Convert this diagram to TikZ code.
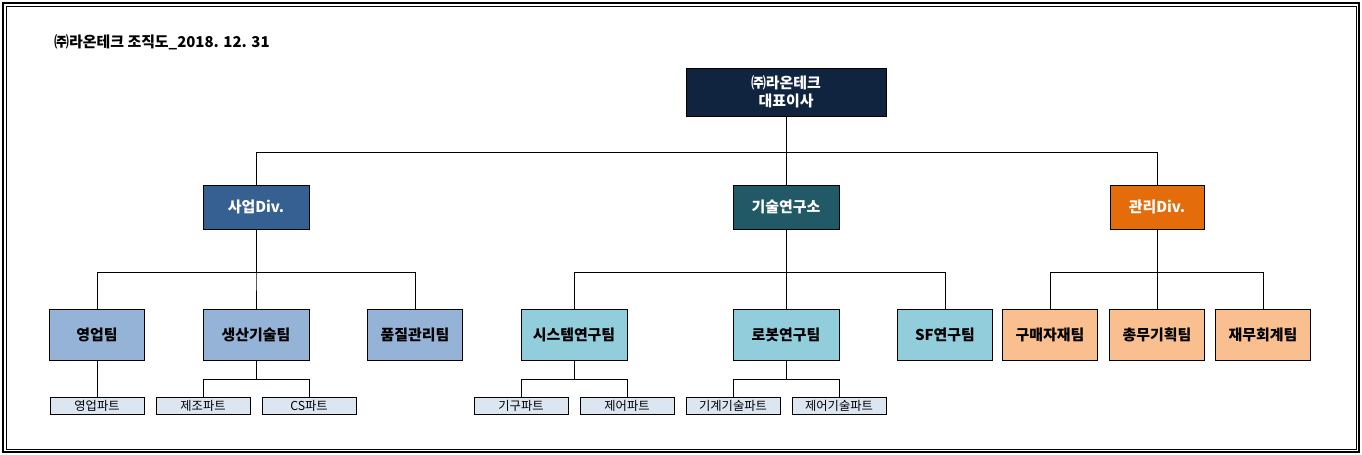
\documentclass[tikz,border=0pt]{standalone}
\usepackage{fontspec}
\setmainfont{Noto Sans CJK KR}
\definecolor{ceoC}{HTML}{10243F}
\definecolor{bizC}{HTML}{366092}
\definecolor{labC}{HTML}{215967}
\definecolor{admC}{HTML}{E46C0A}
\definecolor{bizT}{HTML}{95B3D7}
\definecolor{labT}{HTML}{92CDDC}
\definecolor{admT}{HTML}{FABF8F}
\definecolor{partC}{HTML}{DCE6F1}
\tikzset{
  box/.style={draw=black, line width=0.5pt, font=\fontsize{8.5pt}{10pt}\selectfont\bfseries, align=center, inner sep=0pt},
  topbox/.style={box, fill=ceoC, text=white, minimum width=4cm, minimum height=0.96cm},
  divbox/.style={box, text=white, minimum width=2.12cm, minimum height=0.88cm},
  teambox/.style={box, minimum width=1.9cm, minimum height=1.02cm},
  partbox/.style={draw=black, line width=0.5pt, fill=partC, font=\fontsize{7pt}{8pt}\selectfont, inner sep=0pt, minimum width=1.88cm, minimum height=0.34cm},
  link/.style={line width=0.5pt}
}
\begin{document}
\begin{tikzpicture}[x=0.02cm, y=-0.02cm]
  \useasboundingbox (0,0) rectangle (1362,455);
  \fill[white] (0,0) rectangle (1362,455);
  \draw[line width=1pt] (3,3) rectangle (1359,452);
  \draw[line width=0.5pt] (6,6) rectangle (1356,449);
  \node[anchor=west, font=\fontsize{8.5pt}{10pt}\selectfont\bfseries] (title) at (48,42) {㈜라온테크 조직도\_2018. 12. 31};
  % top
  \node[topbox] (ceo) at (786,92) {㈜라온테크\\대표이사};
  % divisions
  \node[divbox, fill=bizC] (biz) at (256,207) {사업Div.};
  \node[divbox, fill=labC] (lab) at (786,207) {기술연구소};
  \node[divbox, fill=admC, minimum width=1.88cm] (adm) at (1157,207) {관리Div.};
  % teams
  \node[teambox, fill=bizT] (sales) at (97,334.5) {영업팀};
  \node[teambox, fill=bizT, minimum width=2.12cm] (prod) at (256,334.5) {생산기술팀};
  \node[teambox, fill=bizT] (qual) at (415,334.5) {품질관리팀};
  \node[teambox, fill=labT, minimum width=2.12cm] (sys) at (574,334.5) {시스템연구팀};
  \node[teambox, fill=labT, minimum width=2.12cm] (robot) at (786,334.5) {로봇연구팀};
  \node[teambox, fill=labT] (sf) at (945,334.5) {SF연구팀};
  \node[teambox, fill=admT] (buy) at (1050,334.5) {구매자재팀};
  \node[teambox, fill=admT] (gen) at (1157,334.5) {총무기획팀};
  \node[teambox, fill=admT] (fin) at (1263,334.5) {재무회계팀};
  % parts
  \node[partbox] (salesP) at (97,405.5) {영업파트};
  \node[partbox] (makeP) at (203,405.5) {제조파트};
  \node[partbox] (csP) at (309,405.5) {CS파트};
  \node[partbox] (mechP) at (521,405.5) {기구파트};
  \node[partbox] (ctrlP) at (627,405.5) {제어파트};
  \node[partbox] (mtP) at (733,405.5) {기계기술파트};
  \node[partbox] (ctP) at (839,405.5) {제어기술파트};
  % connectors
  \draw[link] (ceo.south) -- ++(0,36) -| (biz.north);
  \draw[link] (ceo.south) -- (lab.north);
  \draw[link] (ceo.south) -- ++(0,36) -| (adm.north);
  \foreach \t in {sales, prod, qual}
    \draw[link] (biz.south) -- ++(0,43) -| (\t.north);
  \foreach \t in {sys, robot, sf}
    \draw[link] (lab.south) -- ++(0,43) -| (\t.north);
  \foreach \t in {buy, gen, fin}
    \draw[link] (adm.south) -- ++(0,43) -| (\t.north);
  \draw[link] (sales.south) -- (salesP.north);
  \foreach \p in {makeP, csP}
    \draw[link] (prod.south) -- ++(0,19) -| (\p.north);
  \foreach \p in {mechP, ctrlP}
    \draw[link] (sys.south) -- ++(0,19) -| (\p.north);
  \foreach \p in {mtP, ctP}
    \draw[link] (robot.south) -- ++(0,19) -| (\p.north);
\end{tikzpicture}
\end{document}
